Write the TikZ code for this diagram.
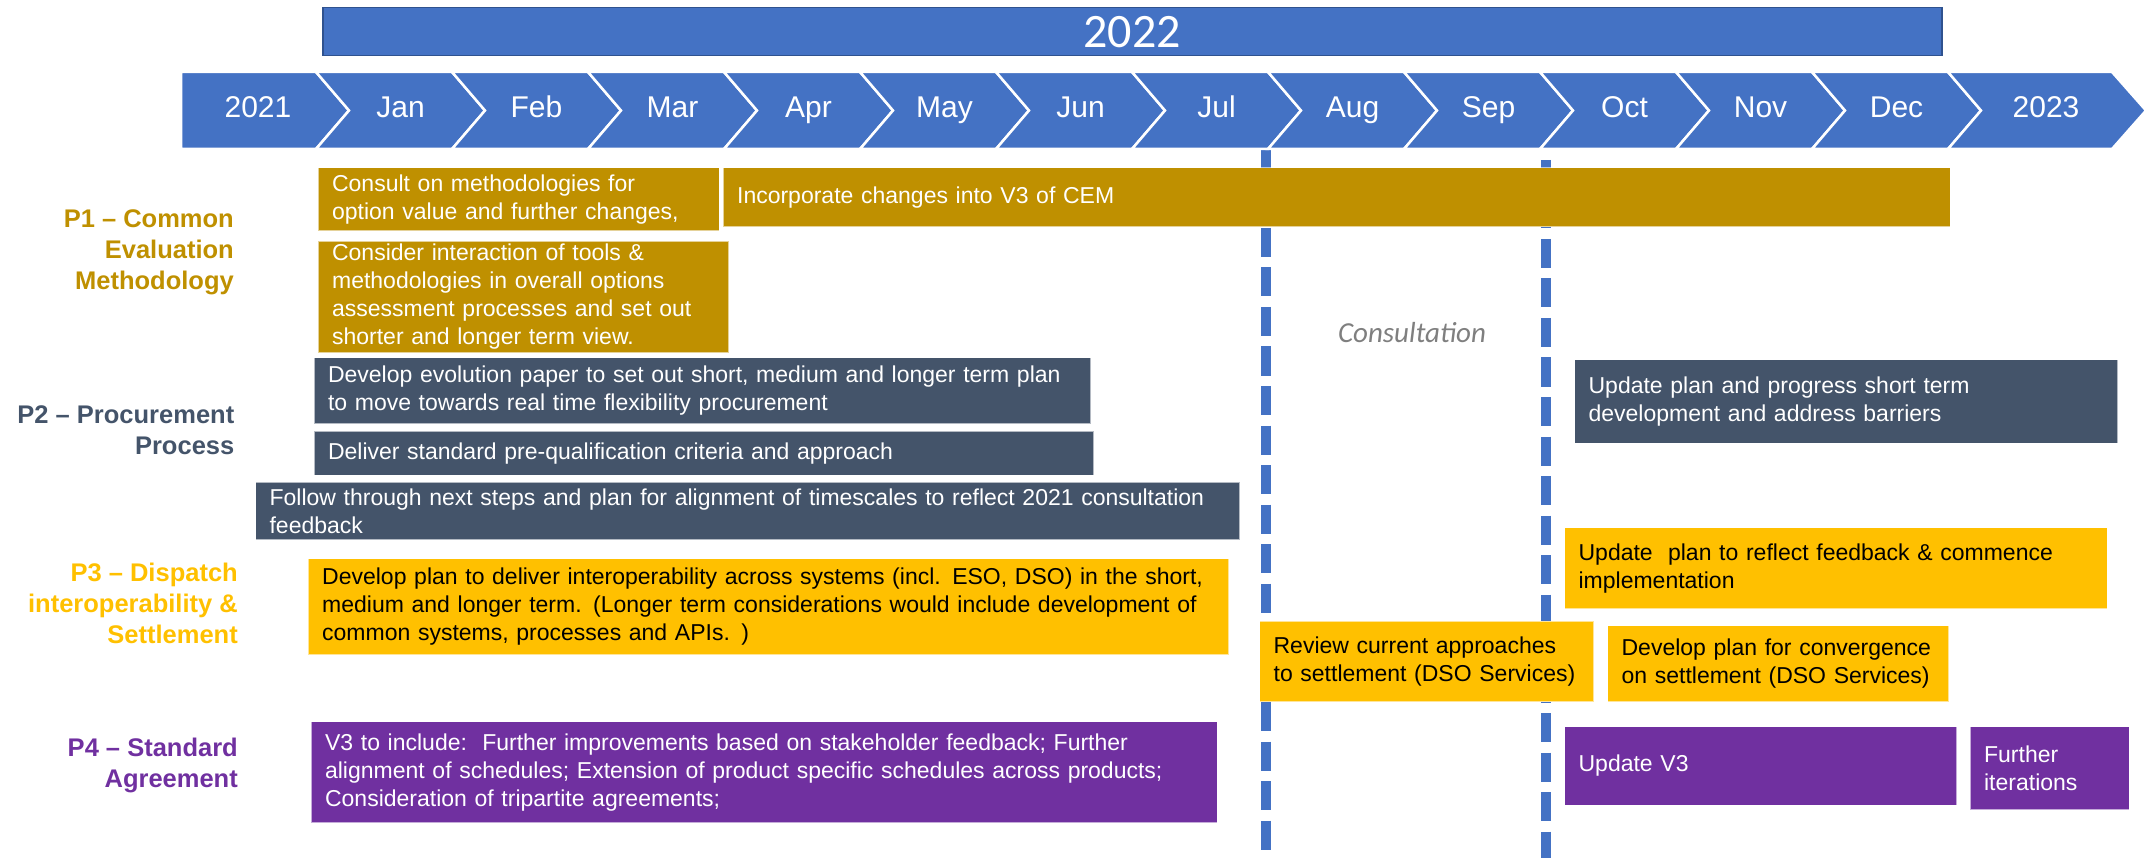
\documentclass[tikz,border=0pt]{standalone}
\usepackage{fontspec}
\setmainfont{Liberation Sans}
\newfontfamily\calibri{Carlito}
\definecolor{cblue}{HTML}{4472C4}
\definecolor{cbluedark}{HTML}{2F528F}
\definecolor{cgold}{HTML}{BF9000}
\definecolor{cslate}{HTML}{44546A}
\definecolor{cyellow}{HTML}{FFC000}
\definecolor{cpurple}{HTML}{7030A0}
\definecolor{cgray}{HTML}{7F7F7F}
\begin{document}
\begin{tikzpicture}[x=1pt,y=-1pt,
  tb/.style={anchor=north west, inner xsep=14pt, inner ysep=0pt, align=left,
    draw=white, draw opacity=0.6, line width=1.2pt,
    font=\fontsize{23}{28}\selectfont},
  goldbox/.style={tb, fill=cgold, text=white},
  slatebox/.style={tb, fill=cslate, text=white},
  yellowbox/.style={tb, fill=cyellow, text=black},
  purplebox/.style={tb, fill=cpurple, text=white},
  lab/.style={anchor=east, align=right, inner sep=0pt,
    font=\bfseries\fontsize{25.5}{31}\selectfont},
  chev/.style={fill=cblue, draw=white, line width=2.5pt, line join=miter},
  mon/.style={anchor=base, text=white, inner sep=0pt, font=\fontsize{30}{36}\selectfont},
  vdash/.style={draw=cblue, line width=9.5pt, dash pattern=on 29pt off 10.5pt},
  banner/.style={anchor=north west, fill=cblue, draw=cbluedark, line width=1.5pt,
    text=white, inner sep=0pt, font=\calibri\fontsize{48}{56}\selectfont}
]
\useasboundingbox (0,0) rectangle (2146,858);

% year banner
\node[banner, minimum width=1619pt, minimum height=48pt] (y2022) at (322,7) {2022};

% consultation window (drawn first so that boxes cover it)
\coordinate (v1a) at (1266,149);
\coordinate (v1b) at (1266,858);
\coordinate (v2a) at (1546,160);
\coordinate (v2b) at (1546,858);
\draw[vdash] (v1a) -- (v1b);
\draw[vdash] (v2a) -- (v2b);

% chevron row
\path[chev] (181,72) -- (316,72) -- (349,110.5) -- (316,149) -- (181,149) -- cycle;
\foreach \i in {1,...,12} {
  \pgfmathsetmacro\xa{316+136*(\i-1)}
  \pgfmathsetmacro\xb{316+136*\i}
  \path[chev] (\xa,72) -- (\xb,72) -- (\xb+33,110.5) -- (\xb,149) -- (\xa,149) -- (\xa+33,110.5) -- cycle;
}
\path[chev] (1948,72) -- (2112,72) -- (2146,110.5) -- (2112,149) -- (1948,149) -- (1981,110.5) -- cycle;
\node[mon] (m0) at (258,118) {2021};
\foreach \m [count=\i] in {Jan,Feb,Mar,Apr,May,Jun,Jul,Aug,Sep,Oct,Nov,Dec} {
  \node[mon] (m\i) at ({400.5+136*(\i-1)},118) {\m};
}
\node[mon] (m13) at (2046,118) {2023};

\node[text=cgray, font=\calibri\itshape\fontsize{29}{34}\selectfont] (cons) at (1412,332.7) {Consultation};

% row labels
\node[lab, text=cgold] (l1) at (234,252.5) {P1 – Common\\Evaluation\\Methodology};
\node[lab, text=cslate] (l2) at (234.5,430) {P2 – Procurement\\Process};
\node[lab, text=cyellow] (l3) at (238,603.5) {P3 – Dispatch\\interoperability \&\\Settlement};
\node[lab, text=cpurple] (l4) at (238,765) {P4 – Standard\\Agreement};

% P1
\node[goldbox, minimum width=401pt, text width=373pt, minimum height=63.5pt] (c1) at (317.5,167)
  {Consult on methodologies for\\option value and further changes,};
\node[goldbox, minimum width=1227pt, text width=1199pt, minimum height=59pt] (c2) at (722.5,167)
  {Incorporate changes into V3 of CEM};
\node[goldbox, minimum width=410.5pt, text width=382.5pt, minimum height=111.5pt] (c3) at (317.5,240.5)
  {Consider interaction of tools \&\\methodologies in overall options\\assessment processes and set out\\shorter and longer term view.};

% P2
\node[slatebox, minimum width=777pt, text width=749pt, minimum height=66pt] (p1) at (313.4,357)
  {Develop evolution paper to set out short, medium and longer term plan\\to move towards real time flexibility procurement};
\node[slatebox, minimum width=779.5pt, text width=751.5pt, minimum height=44pt] (p2) at (313.4,430.5)
  {Deliver standard pre-qualification criteria and approach};
\node[slatebox, minimum width=984pt, text width=956pt, minimum height=57.5pt] (p3) at (255,481.5)
  {Follow through next steps and plan for alignment of timescales to reflect 2021 consultation\\feedback};
\node[slatebox, minimum width=543pt, text width=515pt, minimum height=83.5pt] (p4) at (1574,359)
  {Update plan and progress short term\\development and address barriers};

% P3
\node[yellowbox, minimum width=920.4pt, text width=892.4pt, minimum height=96pt] (d1) at (307.6,558)
  {Develop plan to deliver interoperability across systems (incl. ESO, DSO) in the short,\\medium and longer term. (Longer term considerations would include development of\\common systems, processes and APIs. )};
\node[yellowbox, minimum width=542.5pt, text width=514.5pt, minimum height=81pt] (d2) at (1564,527)
  {Update\ \ plan to reflect feedback \& commence\\implementation};
\node[yellowbox, minimum width=334pt, text width=306pt, minimum height=80.5pt] (d3) at (1259,620.5)
  {Review current approaches\\to settlement (DSO Services)};
\node[yellowbox, minimum width=341pt, text width=313pt, minimum height=76pt] (d4) at (1607,625)
  {Develop plan for convergence\\on settlement (DSO Services)};

% P4
\node[purplebox, minimum width=906pt, text width=878pt, minimum height=101pt] (s1) at (310.5,721)
  {V3 to include:\ \ Further improvements based on stakeholder feedback; Further\\alignment of schedules; Extension of product specific schedules across products;\\Consideration of tripartite agreements;};
\node[purplebox, minimum width=392pt, text width=364pt, minimum height=78.5pt] (s2) at (1564,726)
  {Update V3};
\node[purplebox, minimum width=159pt, text width=131pt, minimum height=83pt] (s3) at (1969.5,726)
  {Further\\iterations};
\end{tikzpicture}
\end{document}
